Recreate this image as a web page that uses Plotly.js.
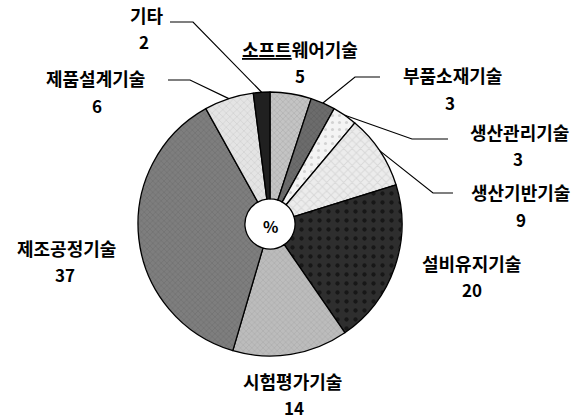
<!DOCTYPE html>
<html>
<head>
<meta charset="utf-8">
<script src="https://cdn.plot.ly/plotly-3.0.1.min.js"></script>
<style>html,body{margin:0;padding:0;background:#fff;}#chart{width:580px;height:420px;}</style>
</head>
<body>
<div id="chart"></div>
<script>
// ---- data (clockwise from 12 o'clock) ----
var categories = ['소프트웨어기술','부품소재기술','생산관리기술','생산기반기술','설비유지기술','시험평가기술','제조공정기술','제품설계기술','기타'];
var values = [5, 3, 3, 9, 20, 14, 37, 6, 2];
var centerLabel = '%';

// ---- styles ----
var bgColors = ['#c4c4c4','#6c6c6c','#f4f4f4','#ececec','#2e2e2e','#bcbcbc','#7e7e7e','#e4e4e4','#202020'];
var fgColors = ['#9a9a9a','#505050','#b0b0b0','#c4c4c4','#000000','#9c9c9c','#5e5e5e','#c4c4c4','#000000'];
var pshapes = ['x','x','.','x','.','x','x','x',''];
var psize = [4,4,7,6,9,4,4,5,4];
var psol = [0.3,0.3,0.15,0.3,0.18,0.3,0.3,0.3,0.3];

var W = 580, H = 420;
var cx = 270, cy = 224, R = 132;
var FONT = '"Noto Sans CJK KR", "Noto Sans", sans-serif';

// [name centre, value centre] in pixels
var labelPos = {
  '기타':[[147,15],[144,42]],
  '소프트웨어기술':[[300,49],[300,75]],
  '제품설계기술':[[95,78],[97,105]],
  '부품소재기술':[[452,75],[450,102]],
  '생산관리기술':[[519,132],[518,158]],
  '생산기반기술':[[520,192],[521,219]],
  '설비유지기술':[[471,263],[472,289]],
  '시험평가기술':[[292,381],[294,407]],
  '제조공정기술':[[66,248],[65,274]]
};
var leaders = {
  '기타':[[170,22],[193,22]],
  '제품설계기술':[[168,80],[190,80]],
  '부품소재기술':[[380,77],[355,77]],
  '생산관리기술':[[448,139],[412,139]],
  '생산기반기술':[[453,193],[433,193]]
};

function px(x){ return x / W; }
function py(y){ return 1 - y / H; }

var total = values.reduce(function(a,b){return a+b;},0);
var cum = 0;
var anchors = {};
values.forEach(function(v,i){
  var th = 2*Math.PI*(cum + v/2)/total;
  anchors[categories[i]] = [cx + R*Math.sin(th), cy - R*Math.cos(th)];
  cum += v;
});

var annotations = [];
categories.forEach(function(c,i){
  var p = labelPos[c];
  var txt = (c === '소프트웨어기술') ? '<u>소프트</u>웨어기술' : c;
  annotations.push({
    x: px(p[0][0]), y: py(p[0][1]), xref:'paper', yref:'paper',
    text: '<b>' + txt + '</b>', showarrow:false, xanchor:'center', yanchor:'middle',
    borderpad:0, font:{family:FONT, size:18, color:'#000'}
  });
  annotations.push({
    x: px(p[1][0]), y: py(p[1][1]), xref:'paper', yref:'paper',
    text: '<b>' + values[i] + '</b>', showarrow:false, xanchor:'center', yanchor:'middle',
    borderpad:0, font:{family:FONT, size:17, color:'#000'}
  });
});
annotations.push({
  x: px(cx), y: py(cy+2), xref:'paper', yref:'paper', text:'<b>'+centerLabel+'</b>',
  showarrow:false, font:{family:FONT, size:16, color:'#000'}
});

var shapesArr = Object.keys(leaders).map(function(k){
  var pts = leaders[k].concat([anchors[k]]);
  var path = pts.map(function(p,j){ return (j?'L':'M')+px(p[0]).toFixed(5)+','+py(p[1]).toFixed(5); }).join(' ');
  return {type:'path', xref:'paper', yref:'paper', path:path, line:{color:'#000', width:1.2}};
});

var trace = {
  type:'pie', labels:categories, values:values, sort:false, direction:'clockwise', rotation:0,
  hole:0.19, textinfo:'none', hoverinfo:'label+value',
  domain:{x:[px(cx-R), px(cx+R)], y:[py(cy+R), py(cy-R)]},
  marker:{colors:bgColors, line:{color:'#000', width:1.3},
    pattern:{shape:pshapes, fgcolor:fgColors, bgcolor:bgColors, size:psize, solidity:psol, fillmode:'overlay'}}
};

Plotly.newPlot('chart', [trace], {
  width:W, height:H, margin:{l:0,r:0,t:0,b:0}, showlegend:false,
  paper_bgcolor:'#fff', plot_bgcolor:'#fff',
  annotations:annotations, shapes:shapesArr
}, {displayModeBar:false, staticPlot:true});
</script>
</body>
</html>
